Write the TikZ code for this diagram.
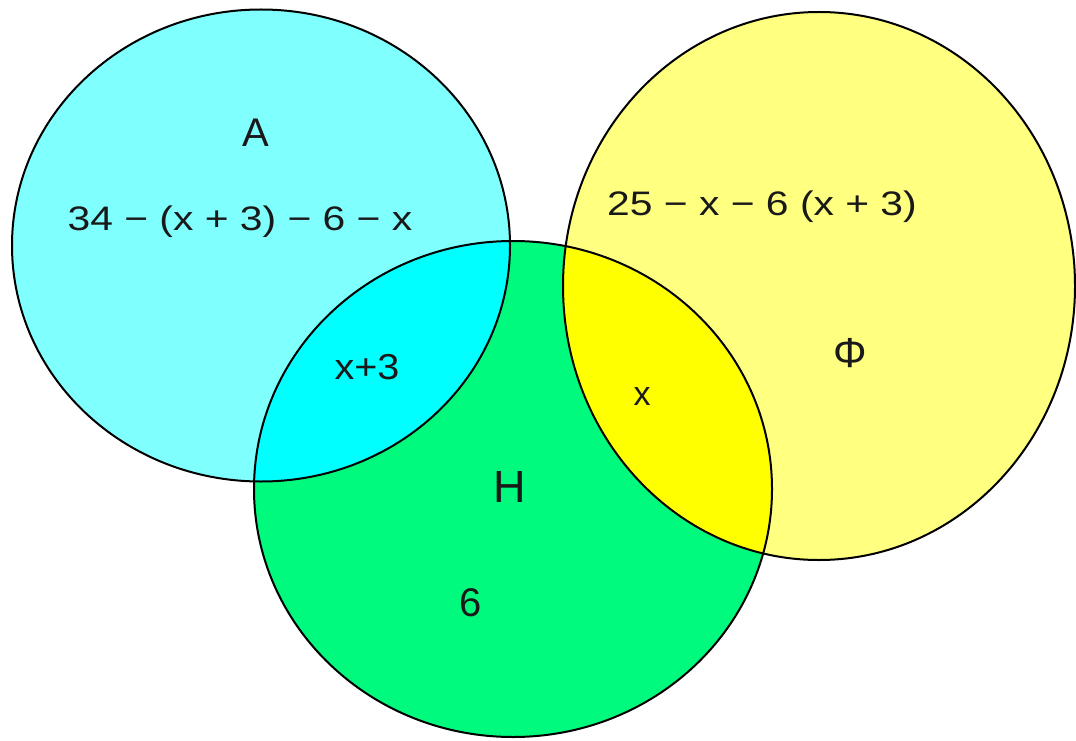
\documentclass[tikz,border=0pt]{standalone}
\usepackage{fontspec}
\setmainfont{Liberation Sans}
\definecolor{lcyan}{RGB}{128,255,255}
\definecolor{bcyan}{RGB}{0,255,255}
\definecolor{lyellow}{RGB}{255,255,128}
\definecolor{byellow}{RGB}{255,255,0}
\definecolor{hgreen}{RGB}{0,250,125}
\begin{document}
\begin{tikzpicture}[x=1pt,y=-1pt,
  lab/.style={inner sep=0pt, text=black!90, font=\fontsize{34}{36}\selectfont},
  bigA/.style={lab, font=\fontsize{40}{44}\selectfont},
  bigH/.style={lab, font=\fontsize{45}{48}\selectfont},
  outline/.style={draw=black, line width=2pt}]
\useasboundingbox (0,0) rectangle (1076,741);
% fills
\fill[lcyan] (261,245.5) ellipse [x radius=249pt, y radius=236pt];
\fill[lyellow] (819,286) ellipse [x radius=256pt, y radius=274pt];
\fill[hgreen] (513,489) ellipse [x radius=259pt, y radius=248pt];
\begin{scope}
  \clip (513,489) ellipse [x radius=259pt, y radius=248pt];
  \fill[bcyan] (261,245.5) ellipse [x radius=249pt, y radius=236pt];
  \fill[byellow] (819,286) ellipse [x radius=256pt, y radius=274pt];
\end{scope}
% outlines
\draw[outline] (261,245.5) ellipse [x radius=249pt, y radius=236pt];
\draw[outline] (819,286) ellipse [x radius=256pt, y radius=274pt];
\draw[outline] (513,489) ellipse [x radius=259pt, y radius=248pt];
% labels
\node[bigA] (labA) at (256,133) {A};
\node[lab] (exprA) at (240,222) {\scalebox{1.2}[1]{34 − (x + 3) − 6 − x}};
\node[lab, font=\fontsize{36}{40}\selectfont] (AH) at (367,367) {\scalebox{1.1}[1]{x+3}};
\node[lab] (HF) at (642,397) {x};
\node[bigH] (labH) at (510,487) {H};
\node[bigA] (Honly) at (471,603) {6};
\node[lab] (exprF) at (762,207) {\scalebox{1.2}[1]{25 − x − 6 (x + 3)}};
\node[lab, font=\fontsize{42}{46}\selectfont] (labF) at (850,353) {Φ};
\end{tikzpicture}
\end{document}
